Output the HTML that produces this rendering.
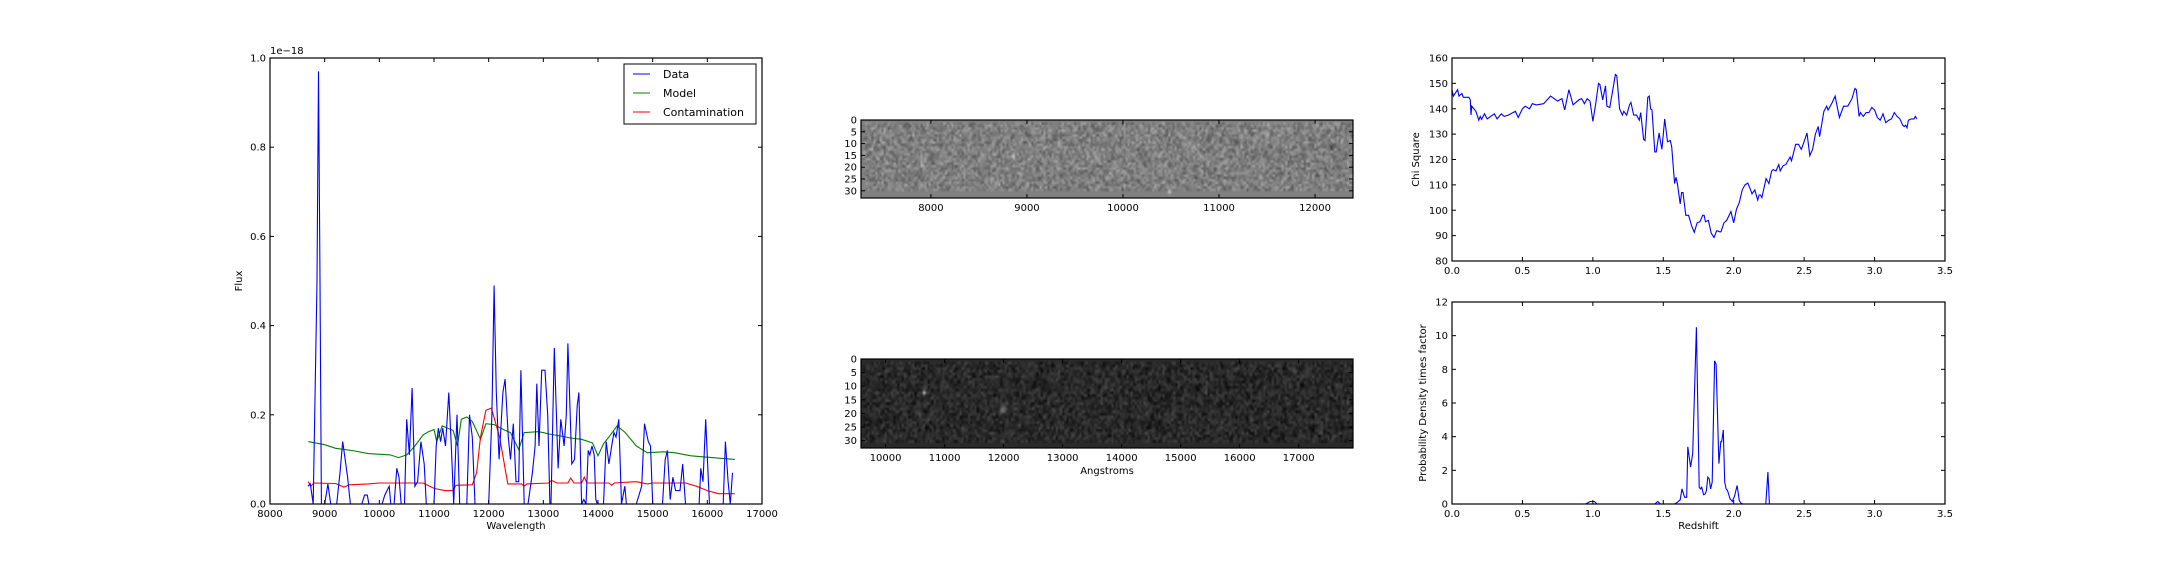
<!DOCTYPE html>
<html><head><meta charset="utf-8"><style>
html,body{margin:0;padding:0;background:#fff;}
svg{display:block;font-family:"DejaVu Sans","Liberation Sans",sans-serif;}
canvas{position:absolute;}
</style></head>
<body>
<div style="position:relative;width:2160px;height:576px">
<canvas id="img1" width="492" height="78" style="left:861px;top:120px;width:492px;height:78px"></canvas>
<canvas id="img2" width="492" height="89" style="left:861px;top:359px;width:492px;height:89px"></canvas>
<svg id="svg" width="2160" height="576" style="position:absolute;left:0;top:0"></svg>
</div>
<script>
// ---- spectrum data ----
const dataW=[8693,8737,8790,8860,8888,8915,8940,9000,9060,9110,9220,9280,9330,9420,9470,9680,9730,9780,9810,10050,10100,10180,10210,10270,10320,10360,10400,10460,10500,10550,10600,10650,10700,10760,10820,10860,11000,11040,11080,11120,11160,11210,11270,11320,11360,11420,11470,11600,11650,11700,11750,12000,12060,12100,12140,12190,12260,12300,12360,12400,12450,12500,12550,12590,12630,12650,12720,12800,12850,12880,12920,12970,13030,13080,13120,13140,13200,13270,13320,13380,13420,13450,13520,13570,13620,13650,13700,13740,13780,13820,13850,13890,13930,13960,13990,14100,14150,14200,14250,14290,14330,14380,14430,14490,14520,14700,14800,14850,14920,14960,15000,15180,15230,15270,15320,15370,15420,15500,15550,15600,15850,15880,15920,15970,16020,16040,16290,16330,16380,16420,16460];
const dataF=[0.04,0.045,0,0.5,0.97,0.5,0,0,0.045,0,0,0.07,0.14,0.06,0,0,0.02,0.02,0,0,0.02,0.04,0,0,0.08,0.06,0,0,0.19,0.11,0.26,0.04,0.05,0.14,0.09,0,0,0.13,0.17,0.14,0.17,0.13,0.25,0.12,0,0.2,0,0,0.2,0.15,0,0,0.2,0.49,0.25,0.1,0.25,0.28,0.15,0.1,0.18,0.05,0.05,0.3,0.1,0,0,0.07,0.13,0.27,0.13,0.3,0.3,0.2,0,0,0.35,0.08,0.19,0.13,0.2,0.36,0.09,0.1,0.22,0.25,0,0.01,0,0.12,0.11,0.13,0.11,0.01,0,0,0.14,0.09,0.13,0.16,0.15,0.19,0,0.04,0,0,0.04,0.18,0.14,0.13,0,0,0.1,0.12,0.01,0.06,0.03,0.03,0.09,0,0,0.08,0.05,0.19,0.05,0,0,0.14,0.05,0,0.07];
const modelW=[8700,9000,9200,9500,9800,10200,10350,10500,10650,10800,10900,11000,11050,11150,11250,11350,11430,11500,11600,11700,11850,11950,12100,12300,12400,12550,12650,12900,13000,13100,13300,13500,13700,13900,14000,14100,14200,14350,14500,14700,14900,15200,15400,15700,16000,16500];
const modelF=[0.14,0.133,0.125,0.12,0.113,0.11,0.104,0.11,0.13,0.155,0.162,0.167,0.14,0.175,0.17,0.165,0.13,0.19,0.195,0.185,0.145,0.18,0.178,0.165,0.16,0.122,0.16,0.162,0.16,0.157,0.153,0.148,0.145,0.137,0.108,0.135,0.15,0.175,0.16,0.13,0.115,0.117,0.115,0.108,0.105,0.1];
const contW=[8700,8750,8800,9200,9350,9450,9800,10000,10800,11000,11200,11350,11400,11700,11780,11850,11950,12050,12200,12350,12600,12650,12700,13100,13150,13250,13450,13500,13560,13700,13750,13800,14200,14250,14300,14700,14900,15000,15600,15800,16000,16200,16500];
const contF=[0.05,0.04,0.047,0.046,0.038,0.043,0.045,0.047,0.047,0.035,0.03,0.03,0.042,0.043,0.07,0.15,0.21,0.215,0.15,0.045,0.045,0.04,0.045,0.047,0.053,0.047,0.047,0.058,0.047,0.047,0.06,0.047,0.047,0.042,0.047,0.05,0.045,0.047,0.047,0.04,0.03,0.023,0.023];
const specXTicks=[8000,9000,10000,11000,12000,13000,14000,15000,16000,17000];
const specYTicks=[0,0.2,0.4,0.6,0.8,1.0];
// ---- chi square ----
const chiZ=[0,0.01,0.04,0.05,0.07,0.08,0.12,0.13,0.135,0.14,0.17,0.19,0.2,0.21,0.23,0.25,0.3,0.32,0.35,0.37,0.4,0.45,0.47,0.5,0.52,0.55,0.57,0.6,0.65,0.7,0.75,0.78,0.8,0.83,0.86,0.9,0.92,0.94,0.96,0.98,1.0,1.02,1.04,1.05,1.07,1.09,1.1,1.12,1.14,1.16,1.17,1.19,1.21,1.22,1.24,1.26,1.27,1.29,1.31,1.33,1.34,1.36,1.37,1.39,1.4,1.41,1.42,1.44,1.45,1.47,1.48,1.49,1.51,1.53,1.55,1.56,1.58,1.59,1.6,1.62,1.63,1.64,1.66,1.68,1.7,1.72,1.74,1.76,1.78,1.79,1.8,1.82,1.84,1.86,1.88,1.9,1.91,1.93,1.95,1.98,2.0,2.02,2.04,2.06,2.08,2.1,2.12,2.13,2.15,2.17,2.18,2.19,2.2,2.22,2.23,2.25,2.27,2.28,2.3,2.32,2.33,2.35,2.37,2.4,2.41,2.44,2.46,2.48,2.5,2.52,2.54,2.56,2.58,2.6,2.61,2.64,2.66,2.67,2.7,2.72,2.75,2.78,2.81,2.84,2.86,2.87,2.89,2.9,2.92,2.94,2.96,2.98,3.0,3.02,3.04,3.06,3.08,3.1,3.12,3.14,3.16,3.18,3.2,3.21,3.22,3.23,3.24,3.26,3.28,3.29,3.3];
const chiV=[147.5,145,147.5,145,146,144.5,144.5,143.5,137.5,141,139,135.5,137,135.8,138,136,138,136,138,137,137.5,139,136.5,140,141,140,142,141.5,142,145,143,144,139.5,147.5,141.5,143.5,144,142,144,143,135,142,150,149.5,143.5,149,141,140.5,147,153.5,153,140,137.5,139,137.5,141.5,142.5,137.5,137.5,135.5,138.5,128,127.5,144.5,145,140,139.5,123,123,130.5,127,124,136,127,127.5,125,110.5,113,110.5,102.5,107,107,98,98,94,91.3,95,95.5,98,98,95.5,96,91,89.3,92,91.5,91.5,95,96,99.5,95,100.5,103,108,110,110.7,108,106.5,108,104,106,106,105,110,112.5,110.5,115.5,116,115.5,118,115.5,117.5,118,121,119.5,126,126,124,127,130.5,121.5,124,130,133,129,139,141,139.5,142.5,145,136.5,141,141,144,148,147.5,137,138.5,137,138.5,138.5,140.5,139.5,136.5,135.5,138,134.5,135.5,136,138.5,137,136,133.5,133,133.5,132.5,135.5,136,136,137,136];
const chiYTicks=[80,90,100,110,120,130,140,150,160];
// ---- probability ----
const pZ=[0,0.95,0.98,1.01,1.03,1.44,1.46,1.48,1.58,1.6,1.62,1.633,1.651,1.666,1.674,1.694,1.709,1.735,1.755,1.765,1.773,1.786,1.798,1.806,1.816,1.826,1.836,1.847,1.864,1.875,1.895,1.908,1.915,1.926,1.936,1.946,1.956,1.974,1.991,2.007,2.024,2.04,2.052,2.065,2.228,2.243,2.253,3.3];
const pV=[0,0,0.15,0.15,0,0,0.15,0,0,0.1,0.25,0.9,0.4,0.4,3.4,2.2,3.0,10.5,1.0,0.9,1.0,0.55,0.6,0.8,1.6,1.5,0.9,1.3,8.5,8.3,2.4,3.7,3.7,4.4,1.3,0.9,0.8,0.3,0.15,0.5,1.1,0.2,0.05,0,0,1.9,0,0];
const pYTicks=[0,2,4,6,8,10,12];
const zTicks=[0,0.5,1.0,1.5,2.0,2.5,3.0,3.5];
// ---- image axes ticks ----
const img1XTicks=[8000,9000,10000,11000,12000];
const img2XTicks=[10000,11000,12000,13000,14000,15000,16000,17000];
const rowTicks=[0,5,10,15,20,25,30];

const NS='http://www.w3.org/2000/svg';
const svg=document.getElementById('svg');
function el(tag,attrs,parent){const e=document.createElementNS(NS,tag);for(const k in attrs)e.setAttribute(k,attrs[k]);(parent||svg).appendChild(e);return e;}
function txt(s,x,y,anchor,parent,extra){const t=el('text',Object.assign({x:x,y:y,'text-anchor':anchor,'font-size':10,fill:'#000'},extra||{}),parent);t.textContent=s;return t;}
function lin(d0,d1,p0,p1){return v=>p0+(v-d0)/(d1-d0)*(p1-p0);}

function axes(name,L,T,R,B,xs,ys,xt,yt,xfmt,yfmt){
  const g=el('g',{});
  
  
  xt.forEach(v=>{const x=xs(v);
    el('line',{x1:x,x2:x,y1:B,y2:B-4,stroke:'#000','stroke-width':1},g);
    el('line',{x1:x,x2:x,y1:T,y2:T+4,stroke:'#000','stroke-width':1},g);
    const t=txt(xfmt(v),x,B+13,'middle',g);
    
    });
  yt.forEach(v=>{const y=ys(v);
    el('line',{x1:L,x2:L+4,y1:y,y2:y,stroke:'#000','stroke-width':1},g);
    el('line',{x1:R,x2:R-4,y1:y,y2:y,stroke:'#000','stroke-width':1},g);
    const t=txt(yfmt(v),L-4,y+3.5,'end',g);
    
    });
  el('rect',{x:L,y:T,width:R-L,height:B-T,fill:'none',stroke:'#000','stroke-width':1.2},g);
  return g;
}
function path(xs,ys,X,Y,color,name){
  let d='';X.forEach((v,i)=>{d+=(i?'L':'M')+xs(v).toFixed(1)+','+ys(Y[i]).toFixed(1);});
  const p=el('path',{d:d,fill:'none',stroke:color,'stroke-width':1.1});
  
  
  return p;
}

// Spectrum chart
{const L=270,T=58,R=762,B=504;
 const xs=lin(8000,17000,L,R), ys=lin(0,1,B,T);
 path(xs,ys,modelW,modelF,'#008000','model-line');
 path(xs,ys,contW,contF,'#ff0000','contamination-line');
 path(xs,ys,dataW,dataF,'#0000ff','data-line');
 axes('spectrum-axes',L,T,R,B,xs,ys,specXTicks,specYTicks,v=>String(v),v=>v.toFixed(1));
 let t=txt('1e\u221218',L,T-4,'start');
 t=txt('Wavelength',(L+R)/2,529,'middle');
 t=txt('Flux',0,0,'middle',null,{transform:'translate(242,'+(T+B)/2+') rotate(-90)'});
 const lg=el('g',{});
 el('rect',{x:624,y:64,width:132,height:60,fill:'#fff',stroke:'#000','stroke-width':1},lg);
 [['Data','#0000ff'],['Model','#008000'],['Contamination','#ff0000']].forEach((e,i)=>{
   const y=74+i*19;
   el('line',{x1:633,x2:650,y1:y,y2:y,stroke:e[1],'stroke-width':1.1},lg);
   const tt=txt(e[0],663,y+4,'start',lg,{'font-size':11});});
}
// Chi square
{const L=1452,T=58,R=1945,B=261;
 const xs=lin(0,3.5,L,R), ys=lin(80,160,B,T);
 path(xs,ys,chiZ,chiV,'#0000ff','chi-square-line');
 axes('chi-square-axes',L,T,R,B,xs,ys,zTicks,chiYTicks,v=>v.toFixed(1),v=>String(v));
 const t=txt('Chi Square',0,0,'middle',null,{transform:'translate(1419,'+(T+B)/2+') rotate(-90)'});
}
// Probability
{const L=1452,T=302,R=1945,B=504;
 const xs=lin(0,3.5,L,R), ys=lin(0,12,B,T);
 path(xs,ys,pZ,pV,'#0000ff','probability-line');
 axes('probability-axes',L,T,R,B,xs,ys,zTicks,pYTicks,v=>v.toFixed(1),v=>String(v));
 let t=txt('Redshift',(L+R)/2,529,'middle');
 t=txt('Probability Density times factor',0,0,'middle',null,{transform:'translate(1426,'+(T+B)/2+') rotate(-90)'});
}
// Image axes
function imgAxes(name,L,T,R,B,x0,x1,xt,rowPx){
  const xs=lin(x0,x1,L,R), ys=v=>T+v*rowPx;
  axes(name,L,T,R,B,xs,ys,xt,rowTicks,v=>String(v),v=>String(v));
}
imgAxes('direct-image-axes',861,120,1353,198,7272,12395,img1XTicks,2.36);
imgAxes('dispersed-image-axes',861,359,1353,448,9583,17920,img2XTicks,2.72);
{const t=txt('Angstroms',1107,474,'middle');}

// Noise images (texture only)
let seed=12345;function rnd(){seed=(seed*1103515245+12345)&0x7fffffff;return seed/0x7fffffff;}
function noiseImg(id,cols,rows,base,amp,blankRows,spots){
  const c=document.getElementById(id),ctx=c.getContext('2d');
  const o=document.createElement('canvas');o.width=cols;o.height=rows;const oc=o.getContext('2d');
  const im=oc.createImageData(cols,rows);
  for(let r=0;r<rows;r++)for(let q=0;q<cols;q++){
    let v=(r<1||r>=rows-blankRows||q<1)?base:base+(rnd()+rnd()+rnd()-1.5)*amp;
    spots.forEach(s=>{const d=(q-s[0])**2+(r-s[1])**2;v+=s[2]*Math.exp(-d/s[3]);});
    v=Math.max(0,Math.min(255,v));const i=(r*cols+q)*4;im.data[i]=im.data[i+1]=im.data[i+2]=v;im.data[i+3]=255;}
  oc.putImageData(im,0,0);ctx.imageSmoothingEnabled=true;ctx.drawImage(o,0,0,c.width,c.height);
}
noiseImg('img1',240,33,128,40,3,[[229,11,-90,0.8],[74,15,60,0.8],[150,30,80,0.6]]);
noiseImg('img2',230,33,42,30,2,[[29,12,160,0.6],[66,18,60,3]]);
</script>
</body></html>
